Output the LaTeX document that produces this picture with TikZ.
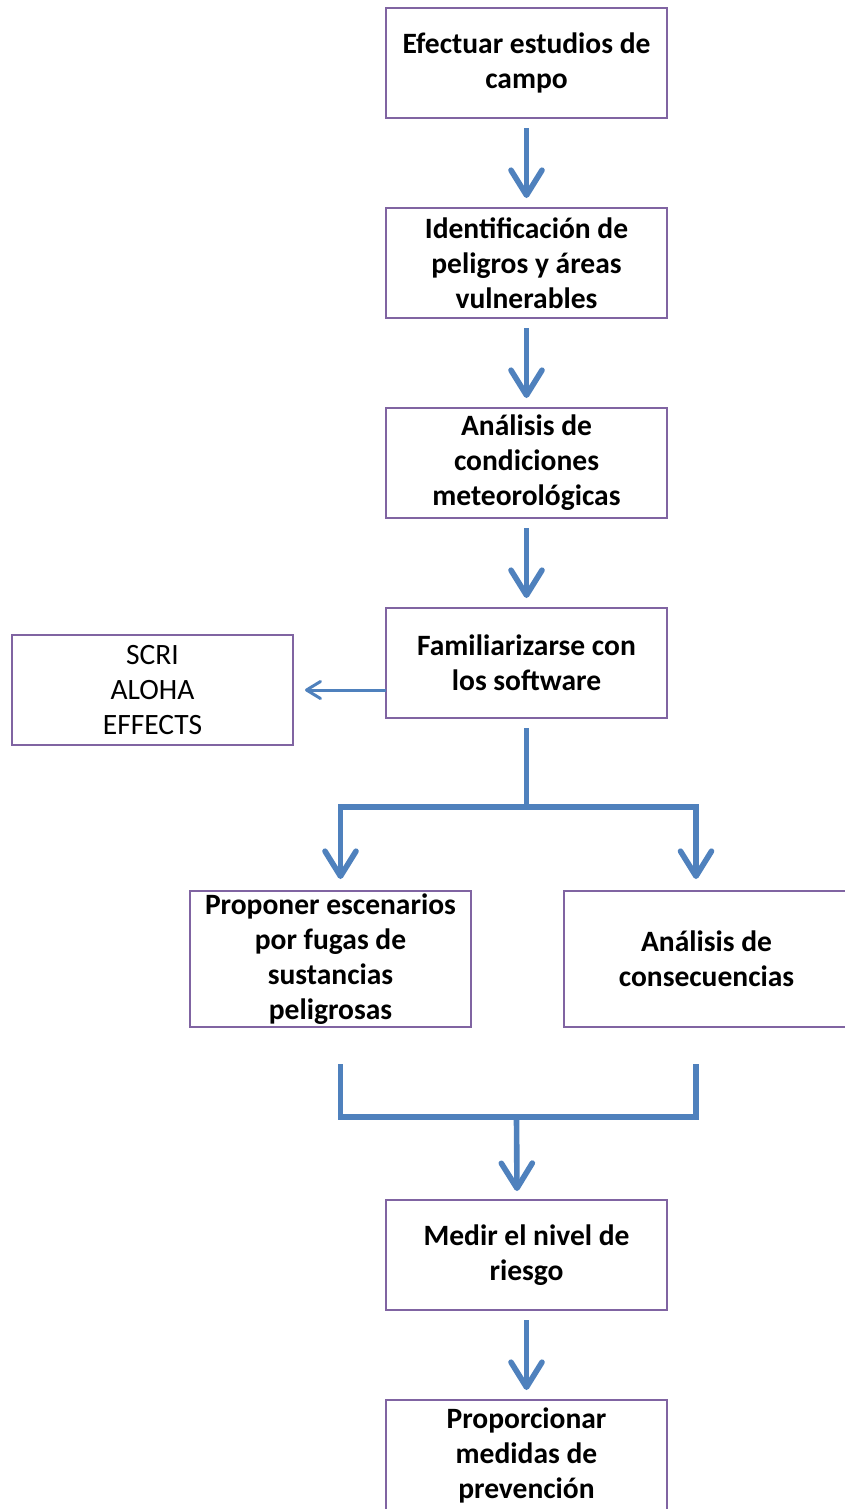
\documentclass[tikz,border=0pt]{standalone}
\usepackage{fontspec}
\setmainfont{Carlito}
\usepackage{tikz}
\usetikzlibrary{positioning,arrows.meta,calc}

\definecolor{boxpurple}{HTML}{8064A2}
\definecolor{flowblue}{HTML}{4F81BD}

\tikzset{
  stepbox/.style={draw=boxpurple,line width=1.1pt,minimum width=5.62cm,minimum height=2.2cm,
    align=center,inner sep=0pt,outer sep=0pt,font=\fontsize{16.8pt}{19.9pt}\selectfont\bfseries},
  toolbox/.style={stepbox,font=\fontsize{16.8pt}{19.9pt}\selectfont},
  flowline/.style={draw=flowblue,line width=3.2pt},
  flow/.style={flowline,-{Straight Barb[length=0.5cm,width=0.62cm,line cap=round,line join=round]}},
  thinflow/.style={draw=flowblue,line width=1.7pt,-{Straight Barb[length=0.28cm,width=0.34cm,line cap=round,line join=round]}}
}

\begin{document}
\begin{tikzpicture}

  \useasboundingbox (0,0) rectangle (16.9,-30.18);

  % Main column
  \node [stepbox] (campo) at (10.53,-1.26) {Efectuar estudios de\\campo};
  \node [stepbox,below=1.8cm of campo] (peligros) {Identificación de\\peligros y áreas\\vulnerables};
  \node [stepbox,below=1.8cm of peligros] (meteo) {Análisis de\\condiciones\\meteorológicas};
  \node [stepbox,below=1.8cm of meteo] (software) {Familiarizarse con\\los software};

  % Software list
  \node [toolbox,left=1.86cm of software,yshift=-0.54cm] (tools) {SCRI\\ALOHA\\EFFECTS};

  % Two branches
  \node [stepbox,minimum height=2.72cm,below=3.46cm of software,xshift=-3.92cm] (escenarios) {Proponer escenarios\\por fugas de\\sustancias\\peligrosas};
  \node [stepbox,minimum height=2.72cm,minimum width=5.7cm,below=3.46cm of software,xshift=3.6cm] (consec) {Análisis de\\consecuencias};

  % Bottom column
  \node [stepbox,below=9.64cm of software] (riesgo) {Medir el nivel de\\riesgo};
  \node [stepbox,below=1.8cm of riesgo] (prevencion) {Proporcionar\\medidas de\\prevención};

  % Straight arrows
  \draw [flow,shorten <=0.2cm,shorten >=0.2cm] (campo) -- (peligros);
  \draw [flow,shorten <=0.2cm,shorten >=0.2cm] (peligros) -- (meteo);
  \draw [flow,shorten <=0.2cm,shorten >=0.2cm] (meteo) -- (software);
  \draw [flow,shorten <=0.2cm,shorten >=0.2cm] (riesgo) -- (prevencion);
  \draw [thinflow] ([yshift=-0.54cm]software.west) -- ([xshift=0.24cm]tools.east);

  % Split
  \coordinate (split) at ($(software.south)+(0,-1.78)$);
  \draw [flowline] ([yshift=-0.2cm]software.south) -- (split);
  \draw [flow] (split) -| ([xshift=0.2cm,yshift=0.24cm]escenarios.north);
  \draw [flow] (split) -| ([xshift=-0.21cm,yshift=0.24cm]consec.north);

  % Merge
  \coordinate (mergeL) at ([xshift=0.2cm,yshift=-0.74cm]escenarios.south);
  \coordinate (mergeR) at ([xshift=-0.21cm,yshift=-0.74cm]consec.south);
  \coordinate (join) at ($(mergeL)+(3.52,-1.06)$);
  \draw [flowline] (mergeL) -- ++(0,-1.06) -| (mergeR);
  \draw [flow] (join) -- ([xshift=-0.19cm,yshift=0.18cm]riesgo.north);

\end{tikzpicture}
\end{document}
